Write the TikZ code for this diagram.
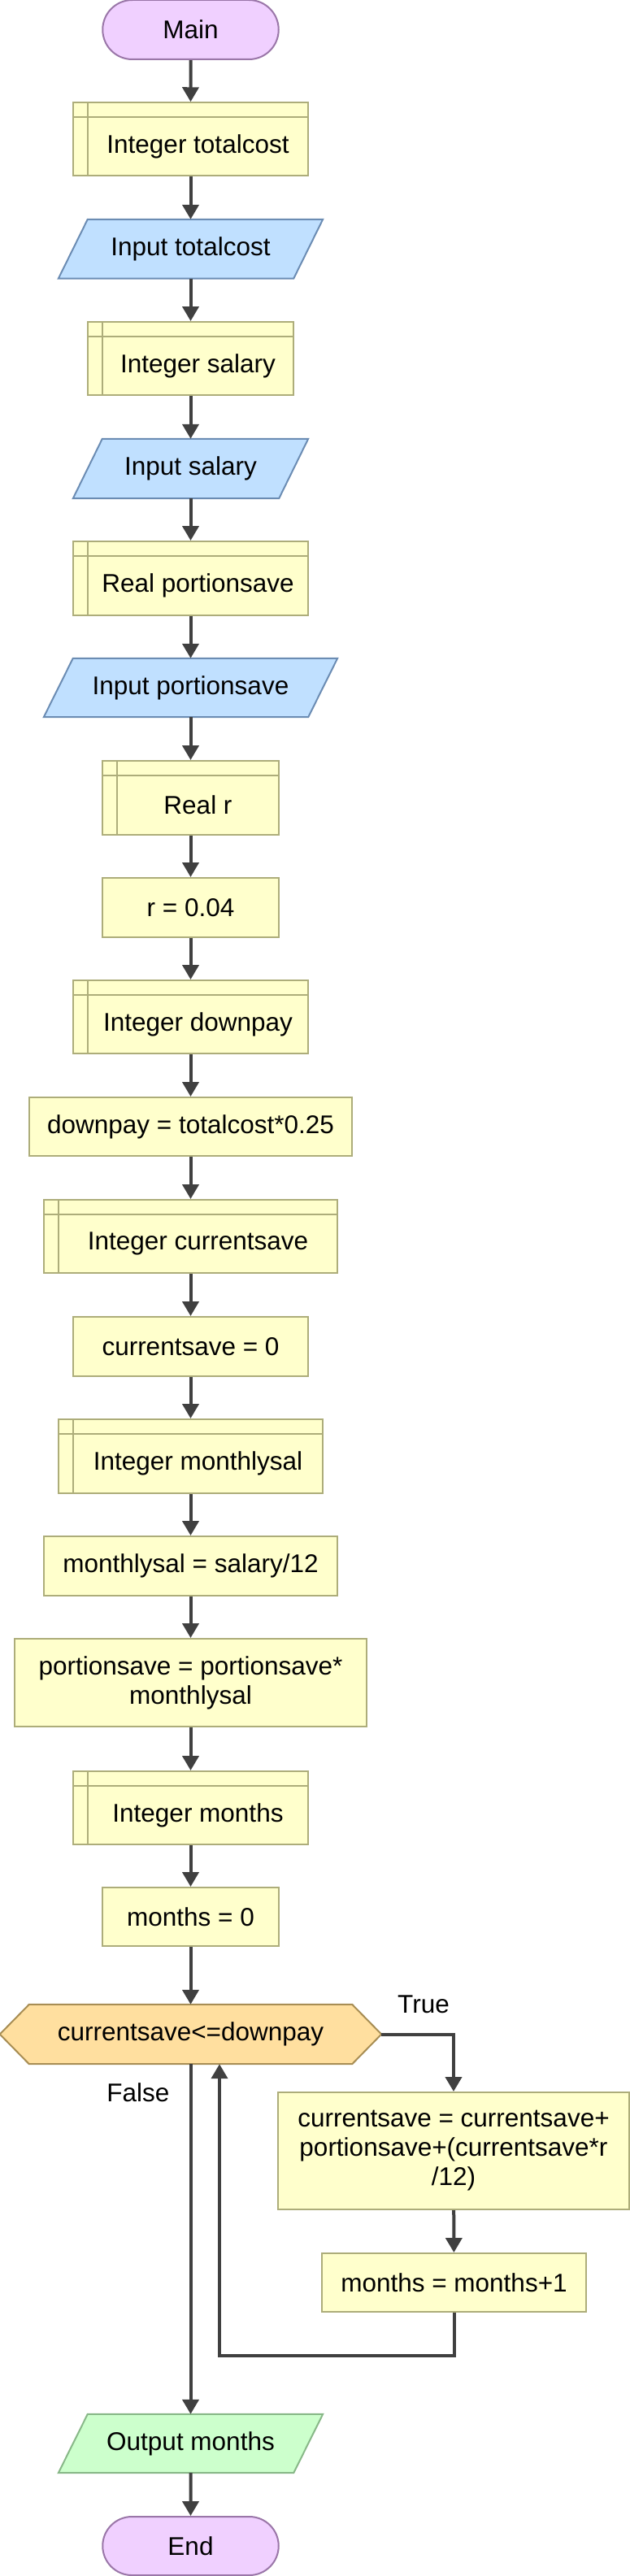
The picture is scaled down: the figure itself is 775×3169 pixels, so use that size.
\documentclass[tikz,border=0pt]{standalone}
\usepackage{fontspec}
\setmainfont{Liberation Sans}
\usetikzlibrary{arrows.meta,shapes.misc,backgrounds}
\definecolor{termfill}{HTML}{F0D0FF}
\definecolor{termline}{HTML}{9A76A8}
\definecolor{procfill}{HTML}{FFFFCC}
\definecolor{procline}{HTML}{ADAD7A}
\definecolor{iofill}{HTML}{C0E0FF}
\definecolor{ioline}{HTML}{6B8CB3}
\definecolor{decfill}{HTML}{FFDF9F}
\definecolor{decline}{HTML}{A88E55}
\definecolor{outfill}{HTML}{CCFFCC}
\definecolor{outline}{HTML}{88B888}
\definecolor{arrc}{HTML}{404040}
\tikzset{
  every node/.style={font=\fontsize{31.5}{36}\selectfont, text=black, inner sep=0pt, align=center},
  term/.style={rounded rectangle, fill=termfill, draw=termline, line width=2pt},
  proc/.style={rectangle, fill=procfill, draw=procline, line width=2pt},
  declbox/.style={proc, path picture={
      \draw[procline, line width=2pt] ([yshift=-18pt]path picture bounding box.north west) -- ([yshift=-18pt]path picture bounding box.north east);
      \draw[procline, line width=2pt] ([xshift=18pt]path picture bounding box.north west) -- ([xshift=18pt]path picture bounding box.south west);}},
  plain/.style={rectangle},
  iopoly/.style={fill=iofill, draw=ioline, line width=2pt, line join=miter},
  outpoly/.style={fill=outfill, draw=outline, line width=2pt},
  decpoly/.style={fill=decfill, draw=decline, line width=2pt},
  arr/.style={draw=arrc, line width=4pt, -{Triangle[width=20pt,length=18pt]}},
  link/.style={draw=arrc, line width=4pt}
}
\begin{document}
\begin{tikzpicture}[x=1pt,y=-1pt]
\useasboundingbox (0,0) rectangle (775,3169);
% nodes
\node[term, minimum width=216.5pt, minimum height=73pt] (main) at (234.5,36.5) {Main};

\node[declbox, minimum width=289pt, minimum height=90pt] (d1) at (234.5,171.25) {};
\node (d1t) at (243.5,180.25) {Integer totalcost};

\node[plain, minimum width=289pt, minimum height=72.5pt] (i1) at (234.5,306.25) {Input totalcost};

\node[declbox, minimum width=253pt, minimum height=90pt] (d2) at (234.5,441) {};
\node (d2t) at (243.5,450) {Integer salary};

\node[plain, minimum width=253pt, minimum height=73pt] (i2) at (234.5,576.5) {Input salary};

\node[declbox, minimum width=289pt, minimum height=91pt] (d3) at (234.5,711.5) {};
\node (d3t) at (243.5,720.5) {Real portionsave};

\node[plain, minimum width=325pt, minimum height=72pt] (i3) at (234.5,846) {Input portionsave};

\node[declbox, minimum width=216.5pt, minimum height=91pt] (d4) at (234.5,981.5) {};
\node (d4t) at (243.5,990.5) {Real r};

\node[proc, minimum width=216.5pt, minimum height=73pt] (a1) at (234.5,1116.5) {r = 0.04};

\node[declbox, minimum width=289pt, minimum height=90pt] (d5) at (234.5,1251) {};
\node (d5t) at (243.5,1260) {Integer downpay};

\node[proc, minimum width=397pt, minimum height=72pt] (a2) at (234.5,1386) {downpay = totalcost*0.25};

\node[declbox, minimum width=361pt, minimum height=90pt] (d6) at (234.5,1521) {};
\node (d6t) at (243.5,1530) {Integer currentsave};

\node[proc, minimum width=289pt, minimum height=73pt] (a3) at (234.5,1656.5) {currentsave = 0};

\node[declbox, minimum width=325pt, minimum height=91pt] (d7) at (234.5,1791.5) {};
\node (d7t) at (243.5,1800.5) {Integer monthlysal};

\node[proc, minimum width=361pt, minimum height=73pt] (a4) at (234.5,1926.5) {monthlysal = salary/12};

\node[proc, minimum width=433pt, minimum height=108pt] (a5) at (234.5,2070) {portionsave = portionsave*\\monthlysal};

\node[declbox, minimum width=289pt, minimum height=90pt] (d8) at (234.5,2224) {};
\node (d8t) at (243.5,2233) {Integer months};

\node[proc, minimum width=216.5pt, minimum height=72pt] (a6) at (234.5,2358) {months = 0};

\node[plain, minimum width=397pt, minimum height=73pt] (dec) at (234.5,2502.5) {currentsave<=downpay};

\node[proc, minimum width=432pt, minimum height=144pt] (a7) at (558,2646) {currentsave = currentsave+\\portionsave+(currentsave*r\\/12)};

\node[proc, minimum width=325pt, minimum height=72pt] (a8) at (558.5,2808) {months = months+1};

\node[plain, minimum width=289pt, minimum height=72pt] (o1) at (234.5,3006) {Output months};

\node[term, minimum width=216.5pt, minimum height=72pt] (end) at (234.5,3132) {End};

\node (tlab) at (521,2466) {True};
\node (flab) at (170,2574) {False};

% polygon backgrounds
\begin{scope}[on background layer]
\foreach \n in {i1,i2,i3}{
  \path[iopoly] ([xshift=-18pt]\n.south west) -- ([xshift=18pt]\n.north west) -- ([xshift=18pt]\n.north east) -- ([xshift=-18pt]\n.south east) -- cycle;
}
\path[outpoly] ([xshift=-18pt]o1.south west) -- ([xshift=18pt]o1.north west) -- ([xshift=18pt]o1.north east) -- ([xshift=-18pt]o1.south east) -- cycle;
\path[decpoly] ([xshift=-36pt]dec.west) -- (dec.north west) -- (dec.north east) -- ([xshift=36pt]dec.east) -- (dec.south east) -- (dec.south west) -- cycle;
\end{scope}

% connectors
\coordinate (decR) at ([xshift=36pt]dec.east);
\coordinate (lc) at (270,2898);
\draw[arr] (main) -- (d1);
\draw[arr] (d1) -- (i1);
\draw[arr] (i1) -- (d2);
\draw[arr] (d2) -- (i2);
\draw[arr] (i2) -- (d3);
\draw[arr] (d3) -- (i3);
\draw[arr] (i3) -- (d4);
\draw[arr] (d4) -- (a1);
\draw[arr] (a1) -- (d5);
\draw[arr] (d5) -- (a2);
\draw[arr] (a2) -- (d6);
\draw[arr] (d6) -- (a3);
\draw[arr] (a3) -- (d7);
\draw[arr] (d7) -- (a4);
\draw[arr] (a4) -- (a5);
\draw[arr] (a5) -- (d8);
\draw[arr] (d8) -- (a6);
\draw[arr] (a6) -- (dec);
\draw[arr] (decR) -| (a7.north);
\draw[arr] (a7) -- (a8);
\draw[arr] (a8.south) |- (lc) -- (lc |- dec.south);
\draw[arr] (dec.south) -- (o1.north);
\draw[arr] (o1) -- (end);
\end{tikzpicture}
\end{document}
